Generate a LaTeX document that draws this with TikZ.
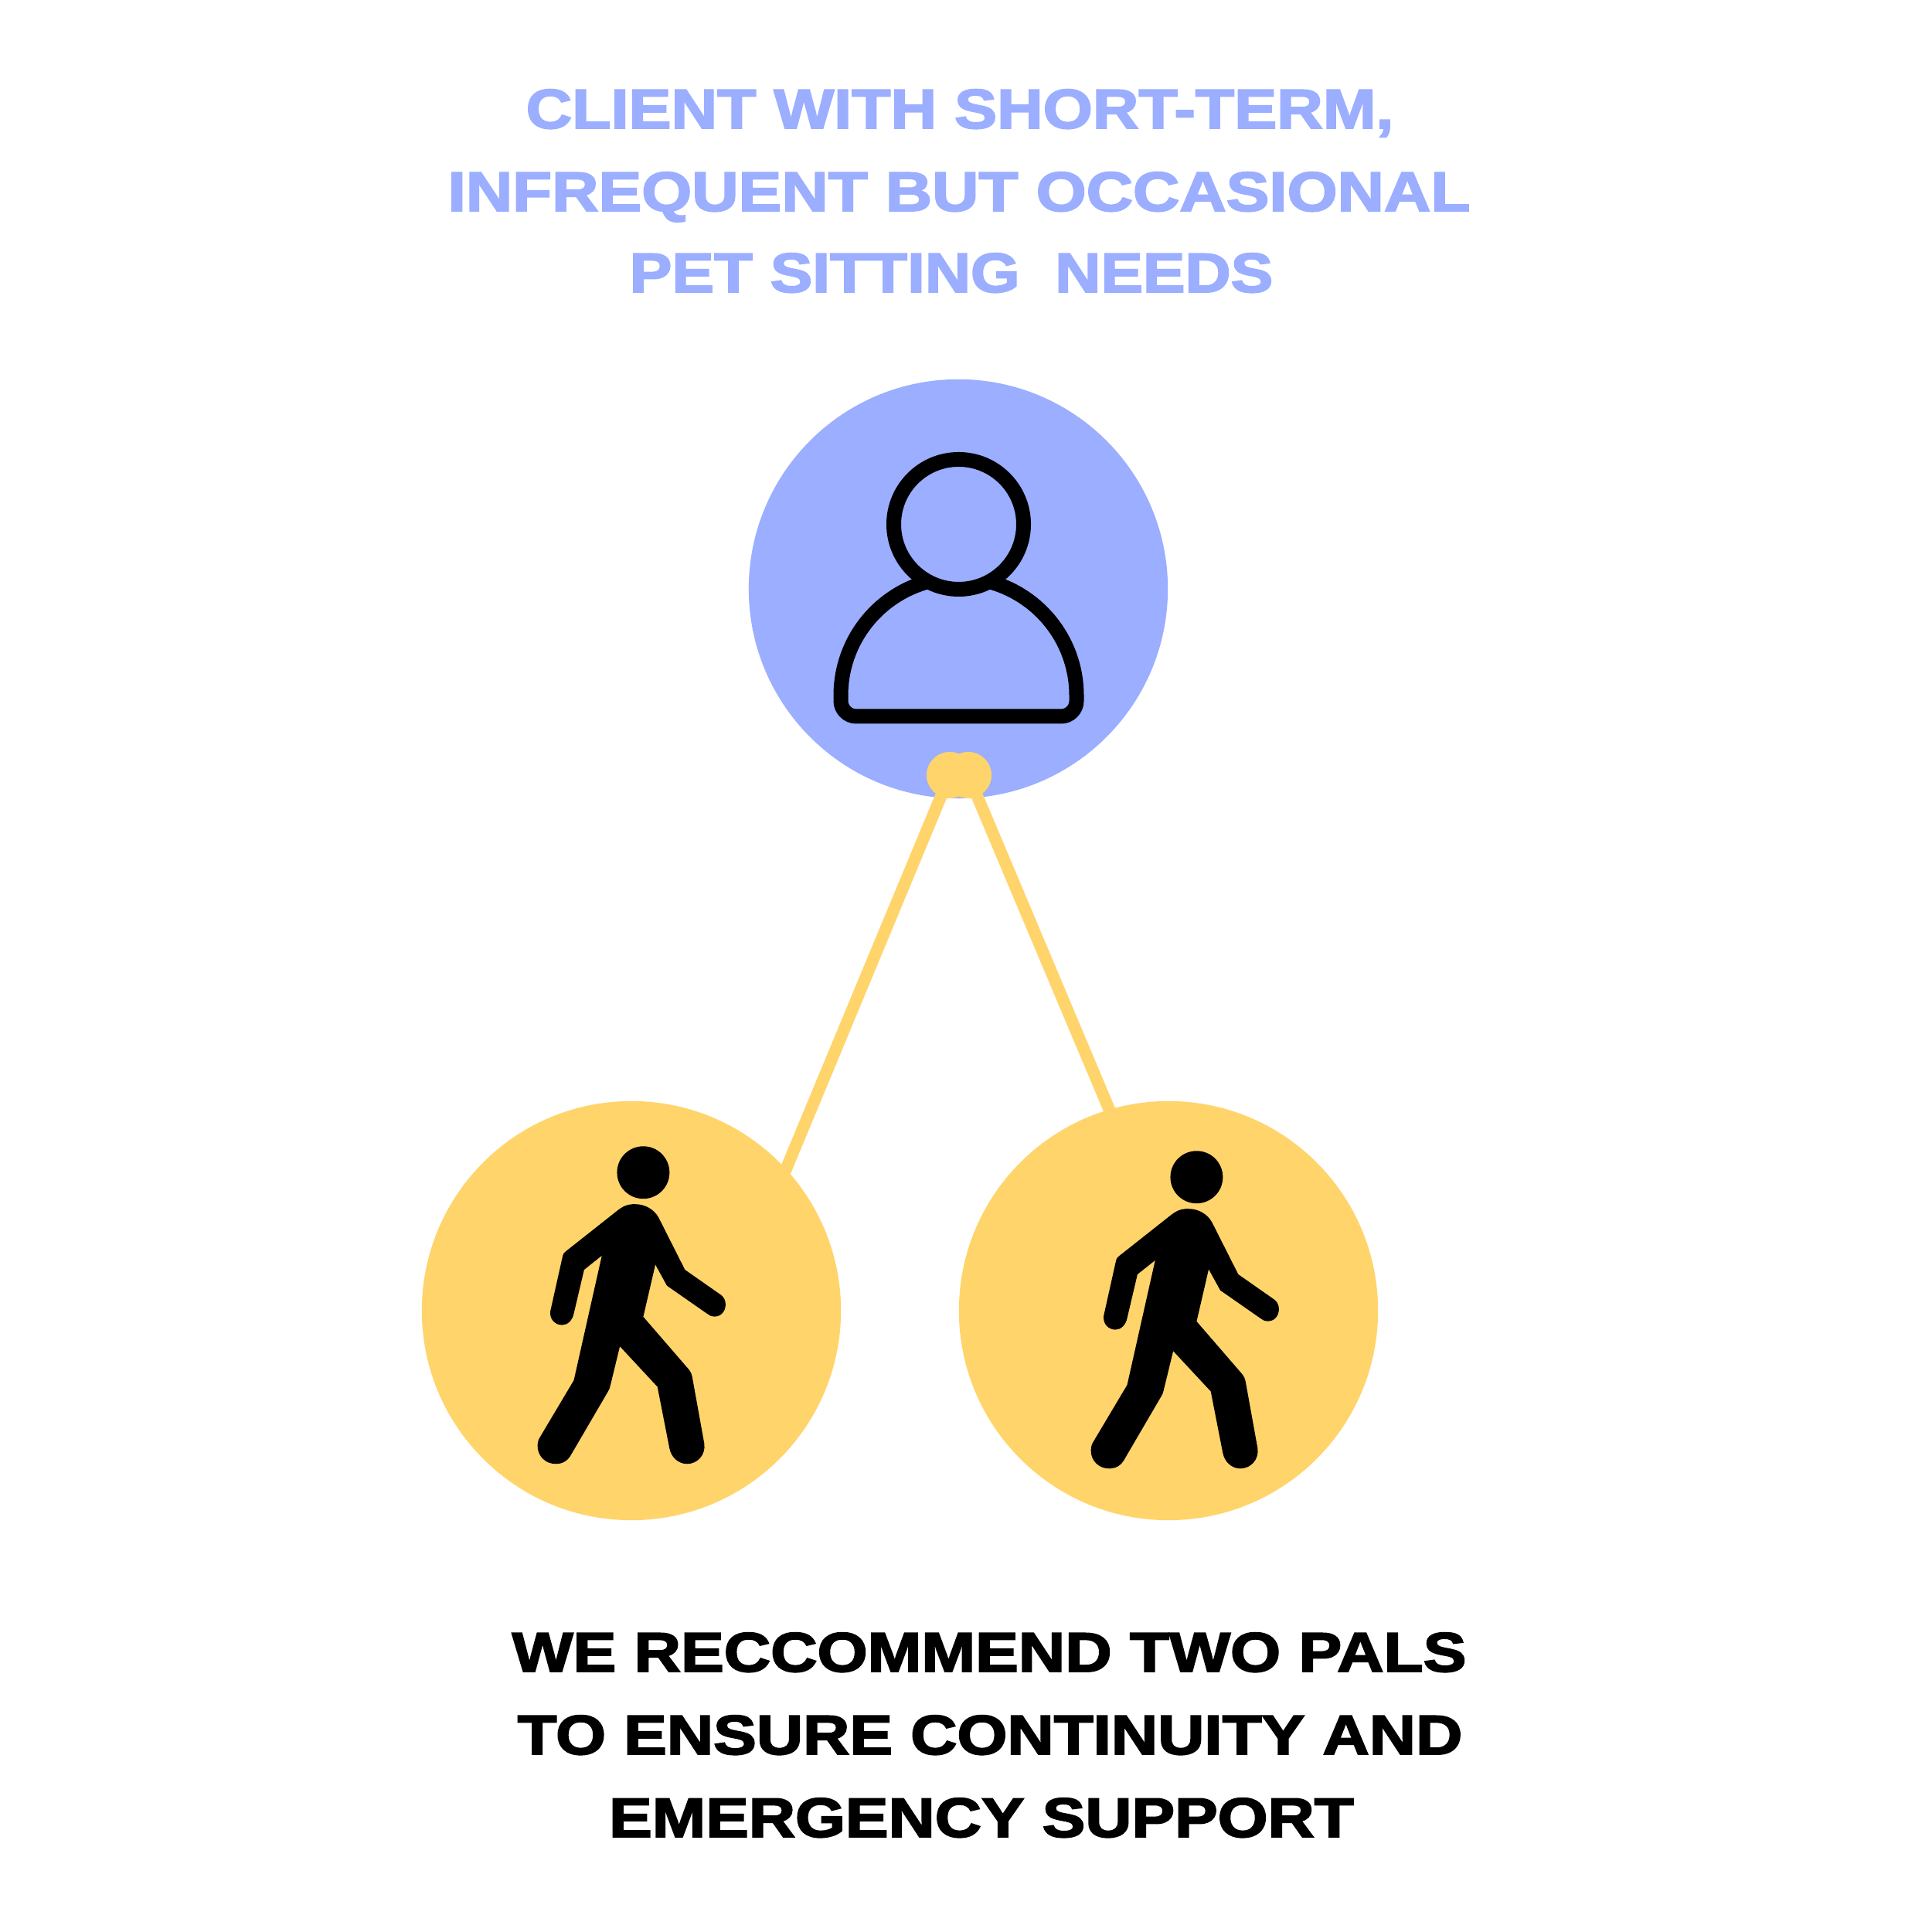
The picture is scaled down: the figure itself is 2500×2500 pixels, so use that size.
\documentclass[tikz,border=0pt]{standalone}
\usepackage{fontspec}
\usepackage{graphicx}
\newfontfamily\headfont[FakeBold=2.5]{Liberation Sans Bold}
\definecolor{palblue}{HTML}{9BAEFF}
\definecolor{palyellow}{HTML}{FFD46B}
\newcommand{\fitline}[2]{\resizebox{#1}{\height}{\headfont\fontsize{20.5}{20.5}\selectfont #2}}
\tikzset{
  bigdisc/.style={circle,inner sep=0pt,minimum size=5.42cm},
  knot/.style={circle,inner sep=0pt,minimum size=0.6cm,fill=palyellow},
  link/.style={draw=palyellow,line width=0.155cm},
  icon/.style={draw=black,line width=0.19cm,fill=palblue},
  headline/.style={inner sep=0pt,anchor=base,text=palblue},
  footline/.style={inner sep=0pt,anchor=base,text=black},
  walker/.pic={
    \begin{scope}[x=0.0033333cm,y=-0.0033333cm]
      \fill[black] (518,172) circle[radius=102];
      \fill[black] (420,318) .. controls (450,295) and (470,295) .. (485,295)
        .. controls (525,295) and (560,315) .. (578,348)
        -- (680,550) -- (820,648)
        .. controls (832,657) and (838,670) .. (838,685)
        .. controls (838,712) and (820,732) .. (795,732)
        .. controls (783,732) and (773,727) .. (765,720)
        -- (610,612) -- (565,530) -- (518,733) -- (697,940)
        .. controls (703,948) and (706,956) .. (708,965)
        -- (755,1225)
        .. controls (762,1268) and (730,1305) .. (688,1305)
        .. controls (655,1305) and (627,1280) .. (620,1245)
        -- (573,1005) -- (427,848) -- (390,1000)
        .. controls (388,1010) and (385,1018) .. (380,1025)
        -- (238,1268)
        .. controls (225,1292) and (205,1305) .. (178,1305)
        .. controls (138,1305) and (107,1275) .. (107,1235)
        .. controls (107,1222) and (110,1210) .. (117,1200)
        -- (248,980) -- (357,495) -- (288,550) -- (248,720)
        .. controls (243,745) and (225,765) .. (203,765)
        .. controls (175,765) and (152,742) .. (157,710)
        -- (205,495)
        .. controls (207,488) and (210,484) .. (215,480)
        -- cycle;
    \end{scope}
  }
}
\begin{document}
\begin{tikzpicture}[x=0.01cm,y=0.01cm]
\useasboundingbox[fill=white] (0,0) rectangle (2500,2500);
% title
\node[headline] (t1) at (1242,2334) {\fitline{11.22cm}{CLIENT WITH SHORT-TERM,}};
\node[headline] (t2) at (1241,2227) {\fitline{13.22cm}{INFREQUENT BUT OCCASIONAL}};
\node[headline] (t3) at (1231,2122) {\fitline{8.32cm}{PET SITTING\ \ NEEDS}};
% client
\node[bigdisc,fill=palblue] (client) at (1240,1738) {};
\draw[icon] (1240,1573) -- (1108,1573) arc[start angle=270,end angle=180,radius=20]
   -- (1088,1600) arc[start angle=180,end angle=0,radius=152.5]
   -- (1393,1593) arc[start angle=0,end angle=-90,radius=20] -- cycle;
\draw[icon] (1240.5,1821.5) circle[radius=84];
% connectors
\coordinate (leftend) at (941,804);
\coordinate (rightend) at (1545,804);
\node[knot] (knotl) at (1229,1497) {};
\node[knot] (knotr) at (1253,1497) {};
\draw[link] (knotl.center) -- (leftend);
\draw[link] (knotr.center) -- (rightend);
% pals
\node[bigdisc,fill=palyellow] (pala) at (817,804) {};
\node[bigdisc,fill=palyellow] (palb) at (1512,804) {};
\pic (walkera) at (660,1040) {walker};
\pic (walkerb) at (1376,1034) {walker};
% footer
\node[footline] (b1) at (1280,337) {\fitline{12.34cm}{WE RECCOMMEND TWO PALS}};
\node[footline] (b2) at (1281,230) {\fitline{12.22cm}{TO ENSURE CONTINUITY AND}};
\node[footline] (b3) at (1270,123) {\fitline{9.63cm}{EMERGENCY SUPPORT}};
\end{tikzpicture}
\end{document}
